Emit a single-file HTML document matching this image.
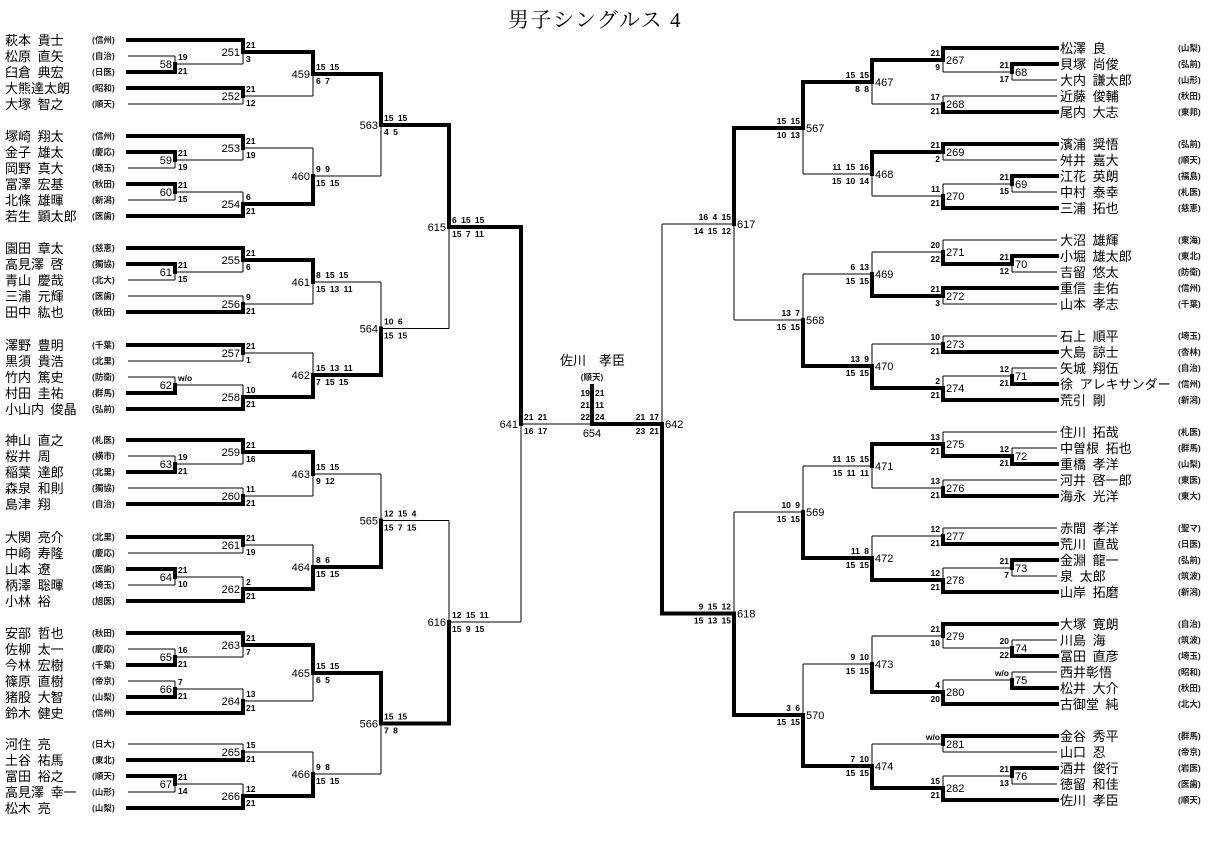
<!DOCTYPE html>
<html><head><meta charset="utf-8">
<style>
html,body{margin:0;padding:0;background:#fff;}
svg{display:block;}
text{fill:#000;}
.nm{font-family:"Liberation Sans","Noto Sans CJK JP",sans-serif;font-size:13px;white-space:pre;word-spacing:3px;}
.af{font-family:"Liberation Sans","Noto Sans CJK JP",sans-serif;font-size:8.5px;font-weight:bold;fill:#222;}
.sc{font-family:"Liberation Sans",sans-serif;font-size:8.5px;white-space:pre;word-spacing:2px;font-weight:bold;}
.lb{font-family:"Liberation Sans",sans-serif;font-size:11px;}
.tt{font-family:"Liberation Serif","Noto Serif CJK SC",serif;font-size:21px;letter-spacing:1.5px;}
</style></head><body>
<svg id="s" width="1214" height="841" xmlns="http://www.w3.org/2000/svg">
<text class="tt" x="595" y="27" text-anchor="middle">男子シングルス 4</text>
<text class="nm" x="560" y="365">佐川　孝臣</text>
<text class="af" x="592" y="380" text-anchor="middle">(順天)</text>
<text class="sc" x="590" y="396" text-anchor="end">19</text>
<text class="sc" x="590" y="408" text-anchor="end">21</text>
<text class="sc" x="590" y="420" text-anchor="end">22</text>
<text class="sc" x="595" y="396">21</text>
<text class="sc" x="595" y="408">11</text>
<text class="sc" x="595" y="420">24</text>
<text class="lb" x="592" y="437" text-anchor="middle">654</text>
<g id="g"></g>
</svg>
<script>
let out='';
function ln(x1,y1,x2,y2,w){out+='<line x1="'+x1+'" y1="'+y1+'" x2="'+x2+'" y2="'+y2+'" stroke="#000" stroke-width="'+w+'" stroke-linecap="'+(w>1?'square':'butt')+'" shape-rendering="crispEdges"/>';}
function tx(x,y,t,c,a){out+='<text x="'+x+'" y="'+y+'" class="'+c+'" text-anchor="'+(a||'start')+'">'+t+'</text>';}
const LX=[128,175,243,313,381,449,521], RX=[1057,1012,943,872,803,734,662];
function p(n,a,y){return [n,a,y];}
function draw(n,side){
  const XS=side<0?LX:RX;
  if(typeof n[1]==='string'){
    const y=n[2];
    if(side<0){tx(5,y+5,n[0],'nm');tx(92,y+3,n[1],'af');}
    else{tx(1060,y+5,n[0],'nm');tx(1178,y+3,n[1],'af');}
    return {y:y,x:XS[0]};
  }
  const [id,lv,w,s0,s1,a,b,fy]=n;
  const ra=draw(a,side), rb=draw(b,side);
  const X=XS[lv];
  const y=(fy!==undefined)?fy:(ra.y+rb.y)/2;
  ln(ra.x,ra.y,X,ra.y,w==0?4:1);
  ln(rb.x,rb.y,X,rb.y,w==1?4:1);
  ln(X,ra.y,X,y,w==0?4:1);
  ln(X,rb.y,X,y,w==1?4:1);
  if(side<0){
    tx(X-3,y+4,id,'lb','end');
    tx(X+3,y-4,s0,'sc');tx(X+3,y+10,s1,'sc');
  }else{
    tx(X+3,y+4,id,'lb');
    tx(X-3,y-4,s0,'sc','end');tx(X-3,y+10,s1,'sc','end');
  }
  return {y:y,x:X};
}
const M459=['459',3,0,'15 15','6 7',['251',2,0,'21','3',p('萩本 貴士','(信州)',40),['58',1,1,'19','21',p('松原 直矢','(自治)',56),p('臼倉 典宏','(日医)',72)]],['252',2,0,'21','12',p('大熊達太朗','(昭和)',88),p('大塚 智之','(順天)',104)]];
const M460=['460',3,1,'9 9','15 15',['253',2,0,'21','19',p('塚崎 翔太','(信州)',136),['59',1,0,'21','19',p('金子 雄太','(慶応)',152),p('岡野 真大','(埼玉)',168)]],['254',2,1,'6','21',['60',1,0,'21','15',p('富澤 宏基','(秋田)',184),p('北條 雄暉','(新潟)',200)],p('若生 顕太郎','(医歯)',216)]];
const M461=['461',3,0,'8 15 15','15 13 11',['255',2,0,'21','6',p('園田 章太','(慈恵)',248),['61',1,0,'21','15',p('高見澤 啓','(獨協)',264),p('青山 慶哉','(北大)',280)]],['256',2,1,'9','21',p('三浦 元輝','(医歯)',296),p('田中 紘也','(秋田)',312)]];
const M462=['462',3,1,'15 13 11','7 15 15',['257',2,0,'21','1',p('澤野 豊明','(千葉)',345),p('黒須 貴浩','(北里)',361)],['258',2,1,'10','21',['62',1,1,'w/o','',p('竹内 篤史','(防衛)',377),p('村田 圭祐','(群馬)',393)],p('小山内 俊晶','(弘前)',409)]];
const M463=['463',3,0,'15 15','9 12',['259',2,0,'21','16',p('神山 直之','(札医)',440),['63',1,1,'19','21',p('桜井 周','(横市)',456),p('稲葉 達郎','(北里)',472)]],['260',2,1,'11','21',p('森泉 和則','(獨協)',488),p('島津 翔','(自治)',504)]];
const M464=['464',3,1,'8 6','15 15',['261',2,0,'21','19',p('大関 亮介','(北里)',537),p('中崎 寿隆','(慶応)',553)],['262',2,1,'2','21',['64',1,0,'21','10',p('山本 遼','(医歯)',569),p('柄澤 聡暉','(埼玉)',585)],p('小林 裕','(旭医)',601)]];
const M465=['465',3,0,'15 15','6 5',['263',2,0,'21','7',p('安部 哲也','(秋田)',633),['65',1,1,'16','21',p('佐柳 太一','(慶応)',649),p('今林 宏樹','(千葉)',665)]],['264',2,1,'13','21',['66',1,1,'7','21',p('篠原 直樹','(帝京)',681),p('猪股 大智','(山梨)',697)],p('鈴木 健史','(信州)',713)]];
const M466=['466',3,1,'9 8','15 15',['265',2,1,'15','21',p('河住 亮','(日大)',744),p('土谷 祐馬','(東北)',760)],['266',2,1,'12','21',['67',1,0,'21','14',p('富田 裕之','(順天)',776),p('高見澤 幸一','(山形)',792)],p('松木 亮','(山梨)',808)]];
const L641=['641',6,0,'21 21','16 17',
  ['615',5,0,'6 15 15','15 7 11',['563',4,0,'15 15','4 5',M459,M460],['564',4,1,'10 6','15 15',M461,M462]],
  ['616',5,1,'12 15 11','15 9 15',['565',4,1,'12 15 4','15 7 15',M463,M464],['566',4,0,'15 15','7 8',M465,M466]],424];

const M467=['467',3,0,'15 15','8 8',['267',2,0,'21','9',p('松澤 良','(山梨)',48),['68',1,0,'21','17',p('貝塚 尚俊','(弘前)',64),p('大内 謙太郎','(山形)',80)]],['268',2,1,'17','21',p('近藤 俊輔','(秋田)',96),p('尾内 大志','(東邦)',112)]];
const M468=['468',3,0,'11 15 16','15 10 14',['269',2,0,'21','2',p('濱浦 奨悟','(弘前)',144),p('舛井 嘉大','(順天)',160)],['270',2,1,'11','21',['69',1,0,'21','15',p('江花 英朗','(福島)',176),p('中村 泰幸','(札医)',192)],p('三浦 拓也','(慈恵)',208)]];
const M469=['469',3,1,'6 13','15 15',['271',2,1,'20','22',p('大沼 雄輝','(東海)',240),['70',1,0,'21','12',p('小堀 雄太郎','(東北)',256),p('吉留 悠太','(防衛)',272)]],['272',2,0,'21','3',p('重信 圭佑','(信州)',288),p('山本 孝志','(千葉)',304)]];
const M470=['470',3,1,'13 9','15 15',['273',2,1,'10','21',p('石上 順平','(埼玉)',336),p('大島 諒士','(杏林)',352)],['274',2,1,'2','21',['71',1,1,'12','21',p('矢城 翔伍','(自治)',368),p('徐 アレキサンダー','(信州)',384)],p('荒引 剛','(新潟)',400)]];
const M471=['471',3,0,'11 15 15','15 11 11',['275',2,1,'13','21',p('住川 拓哉','(札医)',432),['72',1,1,'12','21',p('中曽根 拓也','(群馬)',448),p('重橋 孝洋','(山梨)',464)]],['276',2,1,'13','21',p('河井 啓一郎','(東医)',480),p('海永 光洋','(東大)',496)]];
const M472=['472',3,1,'11 8','15 15',['277',2,1,'12','21',p('赤間 孝洋','(聖マ)',528),p('荒川 直哉','(日医)',544)],['278',2,1,'12','21',['73',1,0,'21','7',p('金淵 龍一','(弘前)',560),p('泉 太郎','(筑波)',576)],p('山岸 拓磨','(新潟)',592)]];
const M473=['473',3,1,'9 10','15 15',['279',2,0,'21','10',p('大塚 寛朗','(自治)',624),['74',1,1,'20','22',p('川島 海','(筑波)',640),p('冨田 直彦','(埼玉)',656)]],['280',2,1,'4','20',['75',1,1,'w/o','',p('西井彰悟','(昭和)',672),p('松井 大介','(秋田)',688)],p('古御堂 純','(北大)',704)]];
const M474=['474',3,1,'7 10','15 15',['281',2,0,'w/o','',p('金谷 秀平','(群馬)',736),p('山口 忍','(帝京)',752)],['282',2,1,'15','21',['76',1,0,'21','13',p('酒井 俊行','(岩医)',768),p('徳留 和佳','(医歯)',784)],p('佐川 孝臣','(順天)',800)]];
const R642=['642',6,1,'21 17','23 21',
  ['617',5,0,'16 4 15','14 15 12',['567',4,0,'15 15','10 13',M467,M468],['568',4,1,'13 7','15 15',M469,M470]],
  ['618',5,1,'9 15 12','15 13 15',['569',4,1,'10 9','15 15',M471,M472],['570',4,1,'3 6','15 15',M473,M474]],424];

draw(L641,-1);
draw(R642,1);
ln(521,424,592,424,1);
ln(592,424,662,424,4);
ln(592,386,592,424,4);
document.getElementById('g').innerHTML=out;
</script>
</body></html>
